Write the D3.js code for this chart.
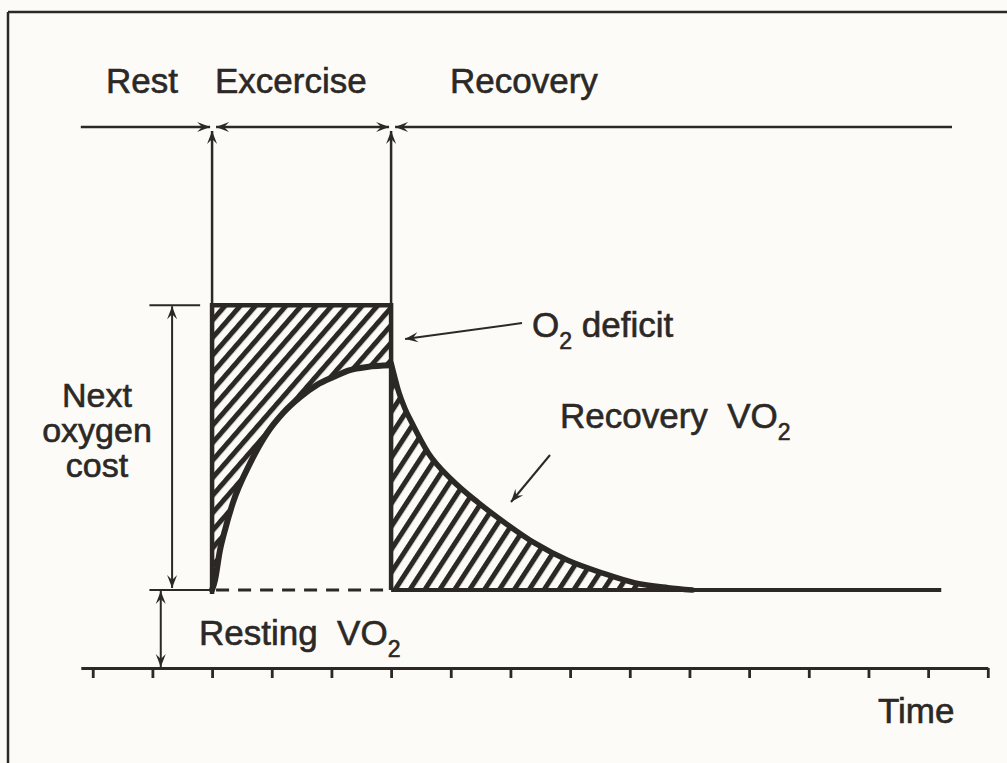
<!DOCTYPE html>
<html>
<head>
<meta charset="utf-8">
<script src="https://cdn.jsdelivr.net/npm/d3@7"></script>
<style>
  body { margin: 0; background: #fcfbf7; }
  svg { display: block; }
</style>
</head>
<body>
<div id="chart"></div>
<script>
// Phases of the diagram (time units = one axis tick)
var phaseNames = ["Rest", "Excercise", "Recovery"];
var phaseStart = [-0.2, 2, 5];
var phaseEnd = [2, 5, 14.4];

// Tick positions along the time axis
var tickTimes = [0, 1, 2, 3, 4, 5, 6, 7, 8, 9, 10, 11, 12, 13, 14, 15];

// Oxygen levels (resting VO2 = 1)
var restingVO2 = 1.0;
var demandVO2 = 4.65;
var restLineEnd = 14.22;

// VO2 during exercise
var exerciseTime = [2.0, 2.05, 2.13, 2.22, 2.35, 2.64, 2.92, 3.19, 3.47, 3.76, 4.03, 4.31, 4.6, 5.0];
var exerciseVO2  = [1.0, 1.13, 1.5, 1.78, 2.12, 2.63, 3.01, 3.27, 3.47, 3.63, 3.73, 3.82, 3.86, 3.88];

// VO2 during recovery
var recoveryTime = [5.0, 5.05, 5.12, 5.23, 5.35, 5.62, 6.02, 6.46, 6.91, 7.41, 7.96, 8.53, 9.09, 9.64, 10.05];
var recoveryVO2  = [3.91, 3.76, 3.56, 3.33, 3.14, 2.76, 2.41, 2.12, 1.86, 1.6, 1.38, 1.22, 1.09, 1.03, 1.0];

var ink = "#2b2826";
var font = "'Liberation Sans', Arial, Helvetica, sans-serif";

var width = 1007;
var height = 763;

var svg = d3.select("#chart").append("svg")
  .attr("width", width)
  .attr("height", height);

// Scales: time -> x, VO2 -> y
var xScale = d3.scaleLinear().domain([-0.2, 15]).range([80.8, 987.8]);
var yScale = d3.scaleLinear().domain([0, 5]).range([668, 278]);

// Defs: arrowheads and hatch patterns
var defs = svg.append("defs");

defs.append("marker")
  .attr("id", "arrow")
  .attr("viewBox", "-14 -6 15 12")
  .attr("markerUnits", "userSpaceOnUse")
  .attr("markerWidth", 15)
  .attr("markerHeight", 12)
  .attr("refX", 0)
  .attr("refY", 0)
  .attr("orient", "auto-start-reverse")
  .append("path")
  .attr("d", "M0,0 L-13,-5 L-8,0 L-13,5 Z")
  .attr("fill", ink);

function addHatch(id, rotation, spacing) {
  var p = defs.append("pattern")
    .attr("id", id)
    .attr("patternUnits", "userSpaceOnUse")
    .attr("width", spacing)
    .attr("height", spacing)
    .attr("patternTransform", "rotate(" + rotation + ")");
  p.append("rect")
    .attr("x", 0).attr("y", 0)
    .attr("width", 5).attr("height", spacing)
    .attr("fill", ink);
}
addHatch("hatchDeficit", 41, 11.5);
addHatch("hatchRecovery", 33, 12.5);

// Frame of the scanned figure
svg.append("line")
  .attr("x1", 8).attr("y1", 12).attr("x2", width).attr("y2", 12)
  .attr("stroke", ink).attr("stroke-width", 2.5);
svg.append("line")
  .attr("x1", 8).attr("y1", 12).attr("x2", 8).attr("y2", height)
  .attr("stroke", ink).attr("stroke-width", 2.5);

// Build point arrays
var exercisePts = exerciseTime.map(function(t, i) { return { t: t, v: exerciseVO2[i] }; });
var recoveryPts = recoveryTime.map(function(t, i) { return { t: t, v: recoveryVO2[i] }; });

// Hatched O2 deficit area (between demand and actual uptake)
var deficitArea = d3.area()
  .x(function(d) { return xScale(d.t); })
  .y0(function(d) { return yScale(d.v); })
  .y1(yScale(demandVO2))
  .curve(d3.curveMonotoneX);
svg.append("path")
  .datum(exercisePts)
  .attr("d", deficitArea)
  .attr("fill", "url(#hatchDeficit)");

// Hatched recovery area (above resting level)
var recoveryArea = d3.area()
  .x(function(d) { return xScale(d.t); })
  .y0(yScale(restingVO2))
  .y1(function(d) { return yScale(d.v); })
  .curve(d3.curveMonotoneX);
svg.append("path")
  .datum(recoveryPts)
  .attr("d", recoveryArea)
  .attr("fill", "url(#hatchRecovery)");

// Demand box outline
var xEx0 = xScale(phaseStart[1]);
var xEx1 = xScale(phaseEnd[1]);
var yDemand = yScale(demandVO2);
var yRest = yScale(restingVO2);
var yZero = yScale(0);

svg.append("path")
  .attr("d", "M" + xEx0 + "," + (yRest + 4) + " V" + yDemand + " H" + xEx1 + " V" + yRest)
  .attr("fill", "none")
  .attr("stroke", ink)
  .attr("stroke-width", 4.5);

// Dashed resting level during exercise
svg.append("line")
  .attr("x1", xEx0 + 4).attr("x2", xEx1)
  .attr("y1", yRest).attr("y2", yRest)
  .attr("stroke", ink)
  .attr("stroke-width", 3)
  .attr("stroke-dasharray", "13,9");

// Solid resting level after exercise
svg.append("line")
  .attr("x1", xEx1).attr("x2", xScale(restLineEnd))
  .attr("y1", yRest).attr("y2", yRest)
  .attr("stroke", ink)
  .attr("stroke-width", 4);

// VO2 curves
var vo2Line = d3.line()
  .x(function(d) { return xScale(d.t); })
  .y(function(d) { return yScale(d.v); })
  .curve(d3.curveMonotoneX);

svg.append("path")
  .datum(exercisePts)
  .attr("d", vo2Line)
  .attr("fill", "none")
  .attr("stroke", ink)
  .attr("stroke-width", 6)
  .attr("stroke-linecap", "round");

svg.append("path")
  .datum(recoveryPts)
  .attr("d", vo2Line)
  .attr("fill", "none")
  .attr("stroke", ink)
  .attr("stroke-width", 5.5)
  .attr("stroke-linecap", "round");

// Phase timeline at top
var yTimeline = 127;
phaseNames.forEach(function(name, i) {
  var x0 = xScale(phaseStart[i]);
  var x1 = xScale(phaseEnd[i]);
  var seg = svg.append("line")
    .attr("x1", i === 0 ? x0 : x0 + 4)
    .attr("x2", i === 2 ? x1 : x1 - 2)
    .attr("y1", yTimeline).attr("y2", yTimeline)
    .attr("stroke", ink)
    .attr("stroke-width", 2.5);
  if (i > 0) seg.attr("marker-start", "url(#arrow)");
  if (i < 2) seg.attr("marker-end", "url(#arrow)");
});

// Shared text style: the scan's lettering is a little heavy
function styleText(sel, size) {
  return sel
    .attr("font-family", font)
    .attr("font-size", size)
    .attr("fill", ink)
    .attr("stroke", ink)
    .attr("stroke-width", 0.6);
}

// Phase labels
var labelX = [106, 215, 450];
phaseNames.forEach(function(name, i) {
  styleText(svg.append("text"), 35)
    .attr("x", labelX[i])
    .attr("y", 93)
    .text(name);
});

// Vertical phase boundaries with arrows up to the timeline
[xEx0, xEx1].forEach(function(x) {
  svg.append("line")
    .attr("x1", x).attr("x2", x)
    .attr("y1", yDemand).attr("y2", yTimeline + 4)
    .attr("stroke", ink)
    .attr("stroke-width", 2.5)
    .attr("marker-end", "url(#arrow)");
});

// Time axis
var xAxis = d3.axisBottom(xScale)
  .tickValues(tickTimes)
  .tickSize(10)
  .tickSizeOuter(0)
  .tickFormat("");
var axisG = svg.append("g")
  .attr("transform", "translate(0," + yZero + ")")
  .call(xAxis);
axisG.select(".domain").attr("stroke", ink).attr("stroke-width", 3);
axisG.selectAll(".tick line").attr("stroke", ink).attr("stroke-width", 2.8);

// "Next oxygen cost" dimension
var xNext = xScale(1.33);
svg.append("line")
  .attr("x1", xScale(0.95)).attr("x2", xScale(1.8))
  .attr("y1", yDemand).attr("y2", yDemand)
  .attr("stroke", ink).attr("stroke-width", 2);
svg.append("line")
  .attr("x1", xScale(0.95)).attr("x2", xEx0)
  .attr("y1", yRest).attr("y2", yRest)
  .attr("stroke", ink).attr("stroke-width", 2);
svg.append("line")
  .attr("x1", xNext).attr("x2", xNext)
  .attr("y1", yDemand + 1).attr("y2", yRest - 2)
  .attr("stroke", ink).attr("stroke-width", 2)
  .attr("marker-start", "url(#arrow)")
  .attr("marker-end", "url(#arrow)");

// Three-line label kept as one text block
var nextLines = ["Next", "oxygen", "cost"];
var nextText = styleText(svg.append("text"), 34)
  .attr("x", 97)
  .attr("y", 407)
  .attr("text-anchor", "middle");
nextLines.forEach(function(s, i) {
  nextText.append("tspan")
    .attr("x", 97)
    .attr("dy", i === 0 ? 0 : 35)
    .text(s);
});

// "Resting VO2" dimension
var xRestArrow = xScale(1.14);
svg.append("line")
  .attr("x1", xRestArrow).attr("x2", xRestArrow)
  .attr("y1", yRest + 1).attr("y2", yZero - 1)
  .attr("stroke", ink).attr("stroke-width", 2)
  .attr("marker-start", "url(#arrow)")
  .attr("marker-end", "url(#arrow)");

function labelWithSub(x, y, main, tail) {
  var t = styleText(svg.append("text"), 35)
    .attr("x", x).attr("y", y)
    .attr("xml:space", "preserve");
  t.append("tspan").text(main);
  t.append("tspan").attr("font-size", 23).attr("dy", 12).text("2");
  if (tail) t.append("tspan").attr("dy", -12).text(tail);
}

labelWithSub(199, 645, "Resting  VO", null);
labelWithSub(532, 337, "O", " deficit");
labelWithSub(560, 428, "Recovery  VO", null);

// Annotation arrows
svg.append("line")
  .attr("x1", 522).attr("y1", 323)
  .attr("x2", xEx1 + 14).attr("y2", 339)
  .attr("stroke", ink).attr("stroke-width", 2)
  .attr("marker-end", "url(#arrow)");
svg.append("line")
  .attr("x1", 550).attr("y1", 455)
  .attr("x2", 511).attr("y2", 502)
  .attr("stroke", ink).attr("stroke-width", 2)
  .attr("marker-end", "url(#arrow)");

// Axis title
styleText(svg.append("text"), 35)
  .attr("x", 878)
  .attr("y", 723)
  .text("Time");
</script>
</body>
</html>
